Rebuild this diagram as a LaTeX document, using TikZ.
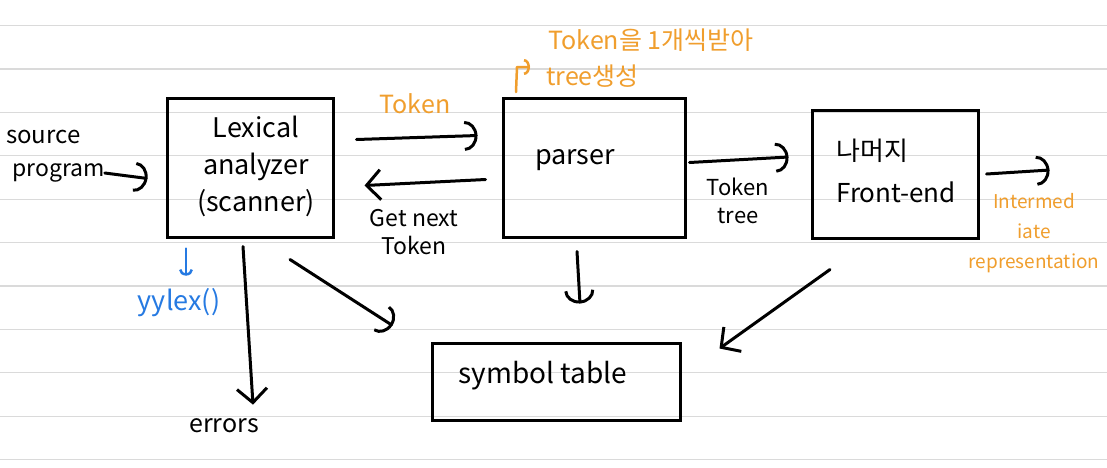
\documentclass[tikz,border=0pt]{standalone}
\usepackage{fontspec}
\setmainfont{Noto Sans CJK KR}
\usepackage{xcolor}
\usepackage{tikz}
\usetikzlibrary{
  arrows.meta,
  positioning,
  calc,
}

\definecolor{penorange}{RGB}{240,158,45}
\definecolor{penblue}{RGB}{38,122,226}
\definecolor{ruleline}{RGB}{218,218,218}

\begin{document}
\begin{tikzpicture}[
  x=1pt, y=-1pt,
  font=\fontsize{27}{37}\selectfont,
  every node/.style={align=center, inner sep=0pt},
  box/.style={draw, line width=3pt},
  pen/.style={line width=3pt, line cap=round, line join=round},
  hook/.style={pen, -{Arc Barb[length=13pt, width=30pt]}},
  barb/.style={pen, -{Straight Barb[length=14pt, width=30pt]}},
]

% lined paper
\useasboundingbox (0,0) rectangle (1107,467);
\fill[white] (0,0) rectangle (1107,467);
\foreach \k in {0,...,10}
  \draw[ruleline, line width=1.2pt] (0,25.5+43.4*\k) -- (1107,25.5+43.4*\k);

% boxes
\node[box, minimum width=166pt, minimum height=139pt] (lexer) at (250,167.5) {};
\node[box, minimum width=182pt, minimum height=139pt] (parser) at (594,167.5) {};
\node[box, minimum width=166pt, minimum height=128pt] (frontend) at (895,174) {};
\node[box, minimum width=248pt, minimum height=77pt] (symtab) at (556,381.5) {};

\node (lexertxt) at (256,166) {Lexical\\analyzer\\(scanner)};
\node (parsertxt) at (575,160) {parser};
\node[anchor=west, align=left, font=\fontsize{26}{42}\selectfont] (fronttxt) at (836,171) {나머지\\Front-end};
\node[font=\fontsize{28}{30}\selectfont] (symtxt) at (543,376) {symbol table};

% outside labels
\node[anchor=west, font=\fontsize{24}{28}\selectfont] (src) at (6,137) {source};
\node[anchor=west, font=\fontsize{23}{28}\selectfont] (prog) at (12,173) {program};
\node[text=penorange, font=\fontsize{25}{28}\selectfont] (toklbl) at (415,104) {Token};
\node[font=\fontsize{23}{28}\selectfont] (getnext) at (414,232) {Get next\\Token};
\node[font=\fontsize{22}{28}\selectfont] (toktree) at (738,201) {Token\\tree};
\node[text=penorange, font=\fontsize{19}{30}\selectfont] (irlbl) at (1034,233) {Intermed\\iate\\representation};
\node[text=penblue] (yy) at (179,303) {yylex()};
\node[font=\fontsize{25}{28}\selectfont] (errs) at (224,426) {errors};
\node[text=penorange, font=\fontsize{25}{28}\selectfont] (note1) at (651,40) {Token을 1개씩받아};
\node[text=penorange, anchor=west, font=\fontsize{25}{28}\selectfont] (note2) at (546,76) {tree생성};

% connectors
\draw[hook] (prog.east) -- ([xshift=-18pt, yshift=-11pt]lexer.west);
\draw[hook] ([xshift=22pt, yshift=-43pt]lexer.north east) -- ([xshift=-24pt, yshift=-39pt]parser.north west);
\draw[barb] ([xshift=-16pt, yshift=-83pt]parser.north west) -- ([xshift=30pt, yshift=-89pt]lexer.north east);
\draw[hook] ([xshift=3pt, yshift=5pt]parser.east) -- ([xshift=-22pt, yshift=17pt]frontend.west);
\draw[hook] ([xshift=7pt]frontend.east) -- ([xshift=70pt, yshift=4pt]frontend.east);
\draw[barb] ([xshift=-7pt, yshift=-8pt]lexer.south) -- ([xshift=29pt, yshift=14pt]errs.north);
\draw[hook, penblue, line width=2.5pt, -{Arc Barb[length=6pt, width=14pt]}]
  ([xshift=-64pt, yshift=-10pt]lexer.south) -- ([xshift=7pt, yshift=13pt]yy.north);
\draw[hook] ([xshift=40pt, yshift=-21pt]lexer.south) -- ([xshift=-38pt, yshift=16pt]symtab.north west);
\draw[hook] ([xshift=-17pt, yshift=-13pt]parser.south) -- ([xshift=24pt, yshift=38pt]symtab.north);
\draw[barb] ([xshift=-65pt, yshift=-30pt]frontend.south) -- ([xshift=38pt, yshift=-7pt]symtab.north east);
\draw[hook, penorange, line width=2.5pt, -{Arc Barb[length=6pt, width=16pt]}]
  ([xshift=-30pt, yshift=-16pt]note2.west) -- ([xshift=-29pt, yshift=9pt]note2.west) -- ([xshift=-16pt, yshift=9pt]note2.west);

\end{tikzpicture}
\end{document}
